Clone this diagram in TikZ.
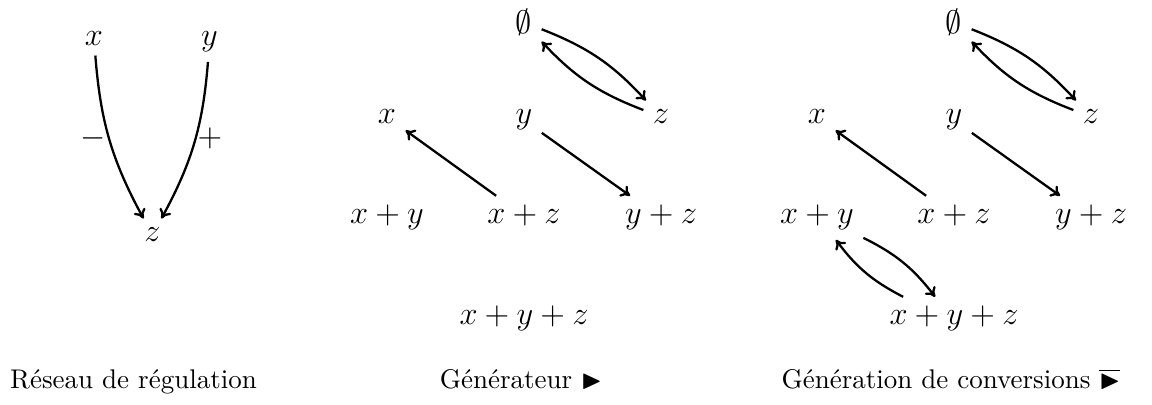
\documentclass[tikz,border=0pt]{standalone}
\usepackage{amssymb}
\usetikzlibrary{arrows.meta}
\begin{document}
\begin{tikzpicture}[x=0.37037pt,y=-0.37037pt,
  st/.style={font=\large, anchor=base},
  lab/.style={font=\large, anchor=center},
  arr/.style={-{To[length=3.4pt,width=4.8pt]}, line width=0.85pt},
  captxt/.style={anchor=base, inner sep=0pt}]
\useasboundingbox (0,0) rectangle (1152,405);
% Panel 1
\node[st] (ax) at (94,46) {$x$};
\node[st] (ay) at (209.5,46) {$y$};
\node[st] (az) at (152.5,242) {$z$};
\draw[arr] (ax) to[bend right=12] (az);
\draw[arr] (ay) to[bend left=12] (az);
\node[lab] (minus) at (93,138) {$-$};
\node[lab] (plus) at (210,138) {$+$};
\node[captxt] (c1) at (133.5,389) {Réseau de régulation};
% Panel 2
\node[st] (b0) at (524,33.5) {$\emptyset$};
\node[st] (bx) at (387,124) {$x$};
\node[st] (by) at (524,124) {$y$};
\node[st] (bz) at (661,124) {$z$};
\node[st] (bxy) at (387,224) {$x+y$};
\node[st] (bxz) at (524,224) {$x+z$};
\node[st] (byz) at (661,224) {$y+z$};
\node[st] (bxyz) at (524,325) {$x+y+z$};
\draw[arr] (b0) to[bend left=13] (bz);
\draw[arr] (bz) to[bend left=13] (b0);
\draw[arr] (bxz) -- (bx);
\draw[arr] (by) -- (byz);
\node[captxt] (c2) at (521,389) {Générateur $\blacktriangleright$};
% Panel 3
\node[st] (c0) at (954,33.5) {$\emptyset$};
\node[st] (cx) at (817,124) {$x$};
\node[st] (cy) at (954,124) {$y$};
\node[st] (cz) at (1091,124) {$z$};
\node[st] (cxy) at (817,224) {$x+y$};
\node[st] (cxz) at (954,224) {$x+z$};
\node[st] (cyz) at (1091,224) {$y+z$};
\node[st] (cxyz) at (954,325) {$x+y+z$};
\draw[arr] (c0) to[bend left=13] (cz);
\draw[arr] (cz) to[bend left=13] (c0);
\draw[arr] (cxz) -- (cx);
\draw[arr] (cy) -- (cyz);
\draw[arr] (cxy) to[bend left=13] (cxyz);
\draw[arr] (cxyz) to[bend left=13] (cxy);
\node[captxt] (c3) at (951,389) {Génération de conversions $\overline{\blacktriangleright}$};
\end{tikzpicture}
\end{document}
